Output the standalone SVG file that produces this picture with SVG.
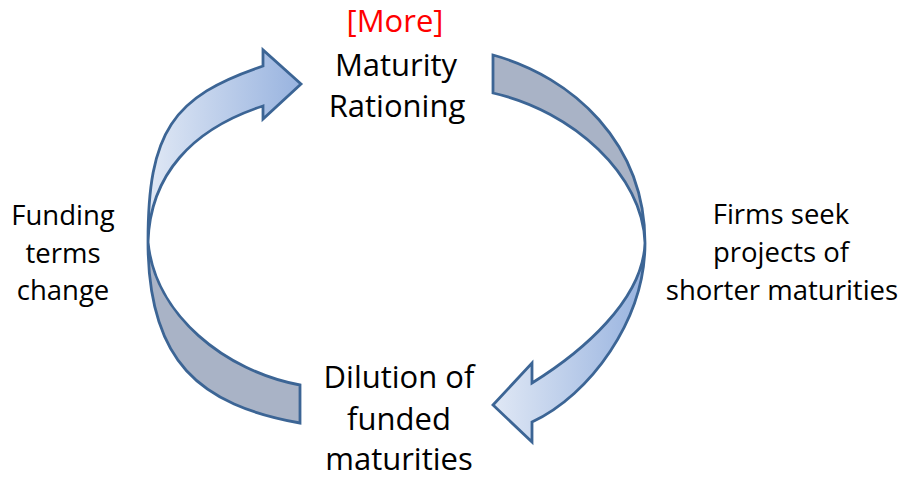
<svg xmlns="http://www.w3.org/2000/svg" width="907" height="482" viewBox="0 0 907 482">
  <defs>
    <linearGradient id="blueGrad" x1="0" y1="0" x2="1" y2="0">
      <stop offset="0" stop-color="#e0e8f5"/>
      <stop offset="1" stop-color="#98b3df"/>
    </linearGradient>
  </defs>
  <style>
    .band { stroke: #3c6595; stroke-width: 2.8; stroke-linejoin: miter; }
    .front { fill: url(#blueGrad); }
    .back { fill: #a9b3c6; }
    .main { font-family: "Open Sans", "Noto Sans", sans-serif; font-size: 31px; fill: #000000; text-anchor: middle; }
    .side { font-family: "Open Sans", "Noto Sans", sans-serif; font-size: 27.5px; fill: #000000; text-anchor: middle; }
    .link { fill: #ff0000; }
  </style>
  <rect width="907" height="482" fill="#ffffff"/>

  <g id="connectors">
    <g id="arrow-left">
      <path class="band back" d="M148,242 C148,362 200,405 300,423 L300,385 C225,371 155,315 148,242 Z"/>
      <path class="band front" d="M148,242 C148,132 172,96.5 263,66 L263,50 L301,84 L263,119 L263,106 C192,129 150,175 148,242 Z"/>
    </g>
    <g id="arrow-right">
      <path class="band back" d="M493,55 C573,77 645,143 645,243 C643,175 573,111 493,93 Z"/>
      <path class="band front" d="M645,243 C645,320 590,395 532,422 L532,442 L493,405 L532,363 L532,383 C582,352 643,300 645,243 Z"/>
    </g>
    <g id="label-funding">
      <text class="side" x="63" y="225">Funding</text>
      <text class="side" x="63" y="263">terms</text>
      <text class="side" x="63" y="300">change</text>
    </g>
    <g id="label-firms">
      <text class="side" x="781" y="224">Firms seek</text>
      <text class="side" x="781" y="262">projects of</text>
      <text class="side" x="782" y="300">shorter maturities</text>
    </g>
  </g>

  <g id="node-maturity-rationing">
    <text class="main link" x="395" y="32">[More]</text>
    <text class="main" x="396" y="76">Maturity</text>
    <text class="main" x="397" y="117">Rationing</text>
  </g>

  <g id="node-dilution">
    <text class="main" x="399" y="388">Dilution of</text>
    <text class="main" x="399" y="430">funded</text>
    <text class="main" x="399" y="470">maturities</text>
  </g>
</svg>
